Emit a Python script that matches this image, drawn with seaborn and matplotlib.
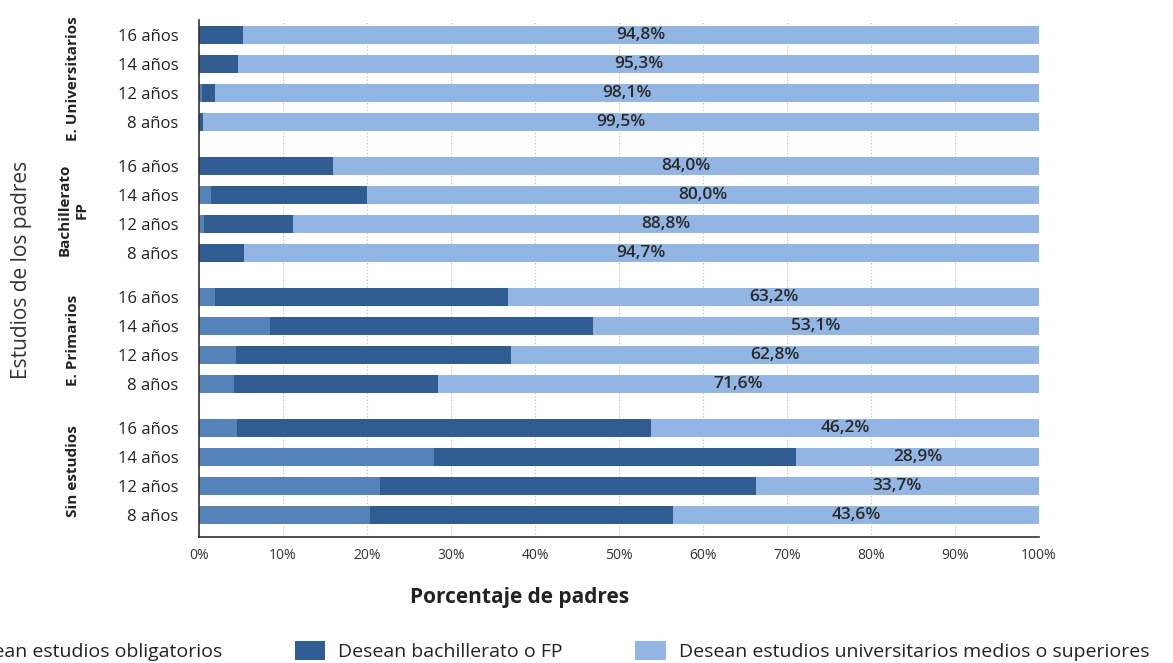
import matplotlib
matplotlib.use("Agg")
import matplotlib.pyplot as plt
import matplotlib.transforms as mtransforms
import seaborn as sns
import pandas as pd
import numpy as np
from matplotlib.patches import Patch

# ---- data ----
groups = ["E. Universitarios", "Bachillerato\nFP", "E. Primarios", "Sin estudios"]
ages = ["16 años", "14 años", "12 años", "8 años"]
oblig = [0.0, 0.0, 0.3, 0.0,
         0.0, 1.4, 0.6, 0.0,
         1.9, 8.5, 4.4, 4.2,
         4.5, 28.0, 21.6, 20.3]
bach = [5.2, 4.7, 1.6, 0.5,
        16.0, 18.6, 10.6, 5.3,
        34.9, 38.4, 32.8, 24.2,
        49.3, 43.1, 44.7, 36.1]
univ = [94.8, 95.3, 98.1, 99.5,
        84.0, 80.0, 88.8, 94.7,
        63.2, 53.1, 62.8, 71.6,
        46.2, 28.9, 33.7, 43.6]
legend_labels = ["Desean estudios obligatorios", "Desean bachillerato o FP",
                 "Desean estudios universitarios medios o superiores"]

c_obl = "#5682ba"
c_bach = "#305c91"
c_univ = "#92b5e3"

sns.set_theme(style="white")
plt.rcParams["font.family"] = ["Open Sans", "DejaVu Sans"]

rows = []
for g_i, g in enumerate(groups):
    for a_i, a in enumerate(ages):
        k = g_i * len(ages) + a_i
        rows.append(dict(group=g, age=a, pos=g_i * 4.5 + a_i,
                         obl=oblig[k], bach=bach[k], univ=univ[k]))
df = pd.DataFrame(rows)
df["c2"] = df["obl"] + df["bach"]
df["c3"] = df["c2"] + df["univ"]

fig = plt.figure(figsize=(11.73, 6.63), dpi=100)
ax = fig.add_axes([199 / 1173, 1 - 537 / 663, 840 / 1173, 517 / 663])

ax.xaxis.grid(True, linestyle=(0, (1, 2)), color="#bbbbbb", linewidth=0.8)
ax.set_axisbelow(True)

kw = dict(orient="y", native_scale=True, width=0.62, ax=ax, saturation=1,
          linewidth=0, errorbar=None)
sns.barplot(data=df, x="c3", y="pos", color=c_univ, **kw)
sns.barplot(data=df, x="c2", y="pos", color=c_bach, **kw)
sns.barplot(data=df, x="obl", y="pos", color=c_obl, **kw)

for _, r in df.iterrows():
    ax.text(r["c2"] + r["univ"] / 2, r["pos"],
            f"{r['univ']:.1f}".replace(".", ",") + "%",
            ha="center", va="center", fontsize=12.5, fontweight="semibold",
            color="#2a2a2a")

ax.set_xlim(0, 100)
ax.set_ylim(17.25, -0.52)
ax.set_xticks(np.arange(0, 101, 10))
ax.set_xticklabels([f"{v}%" for v in range(0, 101, 10)], fontsize=10, color="#333333")
ax.set_yticks(df["pos"])
ax.set_yticklabels(df["age"], fontsize=12, color="#222222")
ax.tick_params(axis="both", length=0)
ax.tick_params(axis="x", pad=8)
ax.tick_params(axis="y", pad=15)

for s in ["top", "right"]:
    ax.spines[s].set_visible(False)
for s in ["left", "bottom"]:
    ax.spines[s].set_color("#333333")
    ax.spines[s].set_linewidth(1.2)

ax.set_xlabel("Porcentaje de padres", fontsize=15, fontweight="bold", color="#222222")
ax.xaxis.set_label_coords((520 - 199) / 840, (537 - 597) / 517)
ax.xaxis.label.set_va("center")
ax.set_ylabel("Estudios de los padres", fontsize=15, color="#333333")
ax.yaxis.set_label_coords((22 - 199) / 840, (537 - 270) / 517)
ax.yaxis.label.set_va("center")

trans = mtransforms.blended_transform_factory(ax.transAxes, ax.transData)
for g_i, g in enumerate(groups):
    sub = df[df["group"] == g]
    yc = sub["pos"].mean()
    ax.text((73 - 199) / 840, yc, g, rotation=90, ha="center", va="center",
            fontsize=11, fontweight="bold", color="#222222", transform=trans,
            multialignment="center", linespacing=1.25)

handles = [Patch(facecolor=c, edgecolor="none") for c in (c_obl, c_bach, c_univ)]
fig.legend(handles, legend_labels, loc="center left",
           bbox_to_anchor=(-102 / 1173, 1 - 651 / 663), ncol=3, frameon=False,
           fontsize=14, handlelength=1.55, handleheight=1.15, handletextpad=0.67,
           columnspacing=3.75, labelcolor="#222222")

fig.savefig("out.png", dpi=100)
